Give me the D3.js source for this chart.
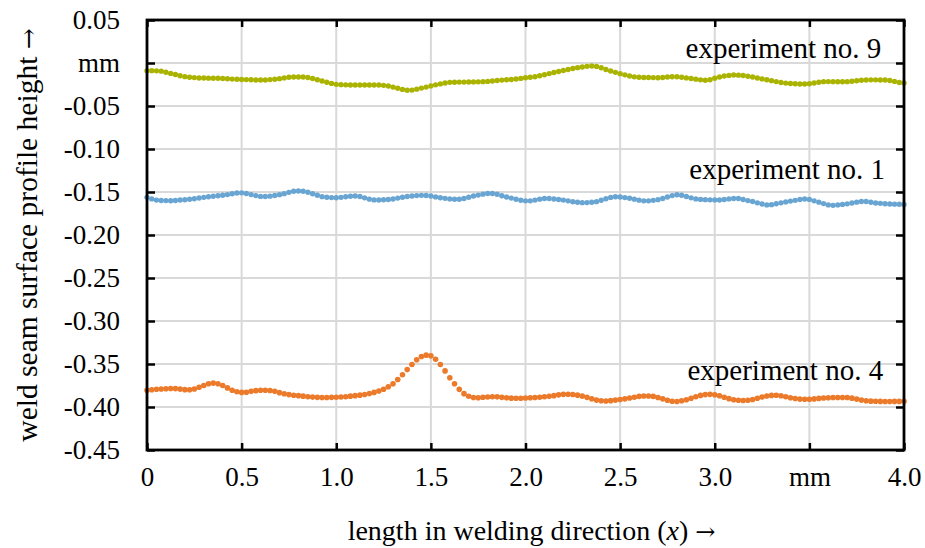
<!DOCTYPE html>
<html>
<head>
<meta charset="utf-8">
<script src="https://cdn.jsdelivr.net/npm/d3@7"></script>
<style>
  html, body { margin: 0; padding: 0; background: #fff; }
  svg { display: block; }
  text { font-family: "Liberation Serif", "Times New Roman", serif; fill: #000; }
  .arrow { font-family: "DejaVu Serif", "DejaVu Sans", serif; }
</style>
</head>
<body>
<svg id="chart" width="925" height="548"></svg>
<script>
// Sampling step along the weld seam (mm)
const step = 0.025;

// Surface profile heights (mm), one value per sample
const exp9 = [
  -0.0089,-0.0089,-0.0091,-0.0095,-0.0108,-0.0121,-0.0134,-0.0148,-0.0159,-0.0165,
  -0.0170,-0.0174,-0.0175,-0.0176,-0.0177,-0.0178,-0.0180,-0.0184,-0.0187,-0.0189,
  -0.0191,-0.0193,-0.0195,-0.0197,-0.0198,-0.0197,-0.0193,-0.0189,-0.0182,-0.0173,
  -0.0166,-0.0163,-0.0162,-0.0163,-0.0168,-0.0180,-0.0195,-0.0209,-0.0224,-0.0237,
  -0.0248,-0.0252,-0.0254,-0.0255,-0.0256,-0.0256,-0.0256,-0.0256,-0.0255,-0.0256,
  -0.0260,-0.0268,-0.0280,-0.0293,-0.0307,-0.0317,-0.0315,-0.0304,-0.0292,-0.0280,
  -0.0266,-0.0254,-0.0243,-0.0233,-0.0225,-0.0223,-0.0222,-0.0222,-0.0221,-0.0220,
  -0.0219,-0.0217,-0.0214,-0.0209,-0.0204,-0.0199,-0.0195,-0.0191,-0.0186,-0.0179,
  -0.0172,-0.0166,-0.0160,-0.0148,-0.0136,-0.0123,-0.0110,-0.0099,-0.0088,-0.0076,
  -0.0064,-0.0054,-0.0047,-0.0039,-0.0035,-0.0040,-0.0055,-0.0075,-0.0093,-0.0109,
  -0.0124,-0.0138,-0.0151,-0.0161,-0.0166,-0.0168,-0.0169,-0.0170,-0.0171,-0.0168,
  -0.0163,-0.0160,-0.0160,-0.0165,-0.0173,-0.0180,-0.0188,-0.0196,-0.0201,-0.0195,
  -0.0178,-0.0162,-0.0151,-0.0144,-0.0140,-0.0141,-0.0146,-0.0154,-0.0163,-0.0174,
  -0.0185,-0.0195,-0.0205,-0.0216,-0.0226,-0.0234,-0.0239,-0.0242,-0.0244,-0.0244,
  -0.0242,-0.0233,-0.0224,-0.0217,-0.0216,-0.0217,-0.0218,-0.0218,-0.0217,-0.0212,
  -0.0206,-0.0201,-0.0198,-0.0196,-0.0196,-0.0197,-0.0198,-0.0204,-0.0214,-0.0226,
  -0.0232
];
const exp1 = [
  -0.1562,-0.1580,-0.1594,-0.1598,-0.1600,-0.1601,-0.1598,-0.1593,-0.1590,-0.1585,
  -0.1578,-0.1570,-0.1562,-0.1555,-0.1549,-0.1543,-0.1537,-0.1530,-0.1521,-0.1511,
  -0.1510,-0.1518,-0.1530,-0.1542,-0.1551,-0.1553,-0.1548,-0.1540,-0.1531,-0.1519,
  -0.1504,-0.1492,-0.1488,-0.1492,-0.1503,-0.1520,-0.1538,-0.1554,-0.1561,-0.1565,
  -0.1566,-0.1562,-0.1555,-0.1549,-0.1547,-0.1553,-0.1568,-0.1583,-0.1592,-0.1593,
  -0.1590,-0.1587,-0.1581,-0.1571,-0.1561,-0.1552,-0.1546,-0.1542,-0.1539,-0.1540,
  -0.1547,-0.1557,-0.1567,-0.1574,-0.1580,-0.1584,-0.1585,-0.1576,-0.1561,-0.1546,
  -0.1536,-0.1525,-0.1518,-0.1517,-0.1527,-0.1543,-0.1558,-0.1571,-0.1584,-0.1596,
  -0.1603,-0.1603,-0.1594,-0.1583,-0.1576,-0.1575,-0.1581,-0.1588,-0.1594,-0.1603,
  -0.1613,-0.1620,-0.1624,-0.1623,-0.1619,-0.1612,-0.1596,-0.1578,-0.1563,-0.1555,
  -0.1558,-0.1565,-0.1573,-0.1583,-0.1595,-0.1603,-0.1603,-0.1597,-0.1589,-0.1575,
  -0.1558,-0.1542,-0.1532,-0.1538,-0.1553,-0.1568,-0.1580,-0.1586,-0.1589,-0.1591,
  -0.1592,-0.1593,-0.1588,-0.1580,-0.1575,-0.1576,-0.1588,-0.1600,-0.1611,-0.1626,
  -0.1640,-0.1650,-0.1647,-0.1637,-0.1626,-0.1615,-0.1606,-0.1597,-0.1588,-0.1581,
  -0.1586,-0.1603,-0.1618,-0.1635,-0.1650,-0.1655,-0.1650,-0.1644,-0.1638,-0.1628,
  -0.1618,-0.1610,-0.1611,-0.1620,-0.1628,-0.1632,-0.1636,-0.1639,-0.1641,-0.1643,
  -0.1645
];
const exp4 = [
  -0.3805,-0.3800,-0.3794,-0.3790,-0.3787,-0.3785,-0.3786,-0.3792,-0.3798,-0.3800,
  -0.3790,-0.3770,-0.3750,-0.3730,-0.3722,-0.3730,-0.3750,-0.3778,-0.3805,-0.3822,
  -0.3830,-0.3828,-0.3818,-0.3810,-0.3806,-0.3805,-0.3808,-0.3818,-0.3833,-0.3846,
  -0.3856,-0.3863,-0.3868,-0.3874,-0.3880,-0.3885,-0.3888,-0.3889,-0.3889,-0.3888,
  -0.3886,-0.3884,-0.3880,-0.3874,-0.3868,-0.3862,-0.3854,-0.3843,-0.3830,-0.3815,
  -0.3793,-0.3765,-0.3730,-0.3680,-0.3625,-0.3565,-0.3505,-0.3450,-0.3413,-0.3397,
  -0.3405,-0.3445,-0.3505,-0.3580,-0.3660,-0.3730,-0.3795,-0.3845,-0.3875,-0.3890,
  -0.3892,-0.3887,-0.3883,-0.3880,-0.3882,-0.3888,-0.3893,-0.3897,-0.3899,-0.3898,
  -0.3896,-0.3893,-0.3890,-0.3886,-0.3881,-0.3876,-0.3868,-0.3859,-0.3853,-0.3851,
  -0.3854,-0.3862,-0.3873,-0.3888,-0.3905,-0.3920,-0.3928,-0.3930,-0.3926,-0.3920,
  -0.3913,-0.3905,-0.3896,-0.3886,-0.3877,-0.3872,-0.3872,-0.3877,-0.3890,-0.3905,
  -0.3922,-0.3934,-0.3936,-0.3928,-0.3915,-0.3898,-0.3880,-0.3865,-0.3856,-0.3853,
  -0.3858,-0.3870,-0.3887,-0.3903,-0.3915,-0.3922,-0.3925,-0.3922,-0.3913,-0.3898,
  -0.3884,-0.3872,-0.3865,-0.3864,-0.3870,-0.3880,-0.3892,-0.3902,-0.3908,-0.3910,
  -0.3910,-0.3906,-0.3900,-0.3895,-0.3892,-0.3890,-0.3889,-0.3889,-0.3890,-0.3897,
  -0.3908,-0.3920,-0.3928,-0.3932,-0.3934,-0.3935,-0.3936,-0.3936,-0.3935,-0.3935,
  -0.3934
];

// Series names and colours
const seriesNames = ["experiment no. 9", "experiment no. 1", "experiment no. 4"];
const seriesColors = ["#aab400", "#69a5d2", "#ec7a2b"];
const seriesValues = [exp9, exp1, exp4];

// Axis ticks and their labels
const xTickValues = [0, 0.5, 1.0, 1.5, 2.0, 2.5, 3.0, 3.5, 4.0];
const xTickLabels = ["0", "0.5", "1.0", "1.5", "2.0", "2.5", "3.0", "mm", "4.0"];
const yTickValues = [0.05, 0, -0.05, -0.10, -0.15, -0.20, -0.25, -0.30, -0.35, -0.40, -0.45];
const yTickLabels = ["0.05", "mm", "-0.05", "-0.10", "-0.15", "-0.20", "-0.25", "-0.30", "-0.35", "-0.40", "-0.45"];

// Label anchor (x in mm, y in mm) for each series
const labelX = [3.88, 3.9, 3.89];
const labelY = [0.0062, -0.1352, -0.3686];

const xTitle = "length in welding direction (";
const yTitle = "weld seam surface profile height ";

const svg = d3.select("#chart");
const W = 925, H = 548;
const margin = { left: 147, right: 21, top: 20, bottom: 98 };
const x = d3.scaleLinear().domain([0, 4]).range([margin.left, W - margin.right]);
const y = d3.scaleLinear().domain([-0.45, 0.05]).range([H - margin.bottom, margin.top]);

svg.append("rect").attr("width", W).attr("height", H).attr("fill", "#fff");

// Grid
const grid = svg.append("g").attr("stroke", "#d9d9d9").attr("stroke-width", 2);
grid.selectAll("line.v").data(xTickValues.slice(1, -1)).join("line")
  .attr("x1", d => x(d)).attr("x2", d => x(d))
  .attr("y1", y.range()[1]).attr("y2", y.range()[0]);
grid.selectAll("line.h").data(yTickValues.slice(1, -1)).join("line")
  .attr("y1", d => y(d)).attr("y2", d => y(d))
  .attr("x1", x.range()[0]).attr("x2", x.range()[1]);

// Dotted profile series
seriesValues.forEach((vals, s) => {
  svg.append("g").attr("fill", seriesColors[s])
    .selectAll("circle").data(vals).join("circle")
    .attr("cx", (d, i) => x(i * step))
    .attr("cy", d => y(d))
    .attr("r", s === 2 ? 2.8 : 2.7);
});

// Axes on all four sides, ticks pointing inward
const fontPx = 27;
const axisB = d3.axisBottom(x).tickValues(xTickValues).tickSize(-7).tickPadding(17)
  .tickFormat((d, i) => xTickLabels[i]);
const axisT = d3.axisTop(x).tickValues(xTickValues).tickSize(-7).tickFormat("");
const axisL = d3.axisLeft(y).tickValues(yTickValues).tickSize(-8).tickPadding(27)
  .tickFormat((d, i) => yTickLabels[i]);
const axisR = d3.axisRight(y).tickValues(yTickValues).tickSize(-8).tickFormat("");

function styleAxis(g) {
  g.select(".domain").remove();
  g.attr("font-family", null);
  g.selectAll(".tick line").attr("stroke", "#000").attr("stroke-width", 2.5);
  g.selectAll(".tick text").style("font-family", '"Liberation Serif", "Times New Roman", serif')
    .style("font-size", fontPx + "px").attr("fill", "#000");
}
svg.append("g").attr("transform", `translate(0,${y.range()[0]})`).call(axisB).call(styleAxis);
svg.append("g").attr("transform", `translate(0,${y.range()[1]})`).call(axisT).call(styleAxis);
svg.append("g").attr("transform", `translate(${x.range()[0]},0)`).call(axisL).call(styleAxis);
svg.append("g").attr("transform", `translate(${x.range()[1]},0)`).call(axisR).call(styleAxis);

// Plot frame
svg.append("rect")
  .attr("x", x.range()[0]).attr("y", y.range()[1])
  .attr("width", x.range()[1] - x.range()[0])
  .attr("height", y.range()[0] - y.range()[1])
  .attr("fill", "none").attr("stroke", "#000").attr("stroke-width", 2.8);

// Series labels
svg.append("g").selectAll("text").data(seriesNames).join("text")
  .attr("x", (d, i) => x(labelX[i]))
  .attr("y", (d, i) => y(labelY[i]))
  .attr("text-anchor", "end")
  .style("font-size", "29px")
  .text(d => d);

// Axis titles
const xt = svg.append("text")
  .attr("x", (x.range()[0] + x.range()[1]) / 2 + 6)
  .attr("y", 540)
  .attr("text-anchor", "middle")
  .style("font-size", "28px");
xt.append("tspan").text(xTitle);
xt.append("tspan").style("font-style", "italic").text("x");
xt.append("tspan").text(") ");
xt.append("tspan").attr("class", "arrow").style("font-size", "24px").text("\u2192");

const yt = svg.append("text")
  .attr("transform", `translate(37,${(y.range()[0] + y.range()[1]) / 2}) rotate(-90)`)
  .attr("text-anchor", "middle")
  .style("font-size", "29.5px");
yt.append("tspan").text(yTitle);
yt.append("tspan").attr("class", "arrow").style("font-size", "25px").text("\u2192");
</script>
</body>
</html>
